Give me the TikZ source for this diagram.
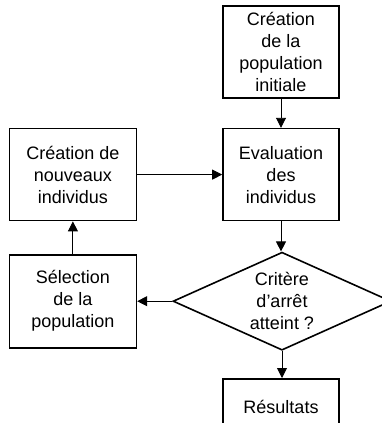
\documentclass[tikz,border=0pt]{standalone}
\usepackage{fontspec}
\setmainfont{Liberation Sans}
\usetikzlibrary{arrows.meta, positioning, shapes.geometric}

\begin{document}
\begin{tikzpicture}[
    x=1pt, y=1pt,
    etape/.style={rectangle, draw=black, line width=1.6pt,
                  minimum width=116pt, minimum height=92pt,
                  align=center, inner sep=2pt,
                  font=\fontsize{18}{22}\selectfont},
    test/.style={diamond, draw=black, line width=1.6pt, aspect=2.2,
                 minimum width=218pt, minimum height=98pt,
                 align=center, inner sep=0pt,
                 font=\fontsize{18}{22}\selectfont},
    fleche/.style={-{Triangle[length=10pt, width=10pt]}, line width=0.9pt},
]
\useasboundingbox (0,0) rectangle (381,-423);

\node[etape] (init) at (281,-52)
    {Cr\'eation\\de la\\population\\initiale};
\node[etape, below=29pt of init] (eval)
    {Evaluation\\des\\individus};
\node[test, below=30pt of eval, xshift=1pt] (crit)
    {Crit\`ere\\d'arr\^et\\atteint ?};
\node[etape, below=27pt of crit, xshift=-1pt, minimum height=56pt] (res)
    {R\'esultats};
\node[etape, left=85pt of eval, minimum width=127pt] (nouv)
    {Cr\'eation de\\nouveaux\\individus};
\node[etape, left=35pt of crit, minimum width=127pt, minimum height=93pt] (sel)
    {S\'election\\de la\\population};

\draw[fleche] (init) -- (eval);
\draw[fleche] (eval) -- (eval |- crit.north);
\draw[fleche] (crit) -- (crit |- res.north);
\draw[fleche] (crit) -- (sel);
\draw[fleche] (sel) -- (nouv);
\draw[fleche] (nouv) -- (eval);
\end{tikzpicture}
\end{document}
